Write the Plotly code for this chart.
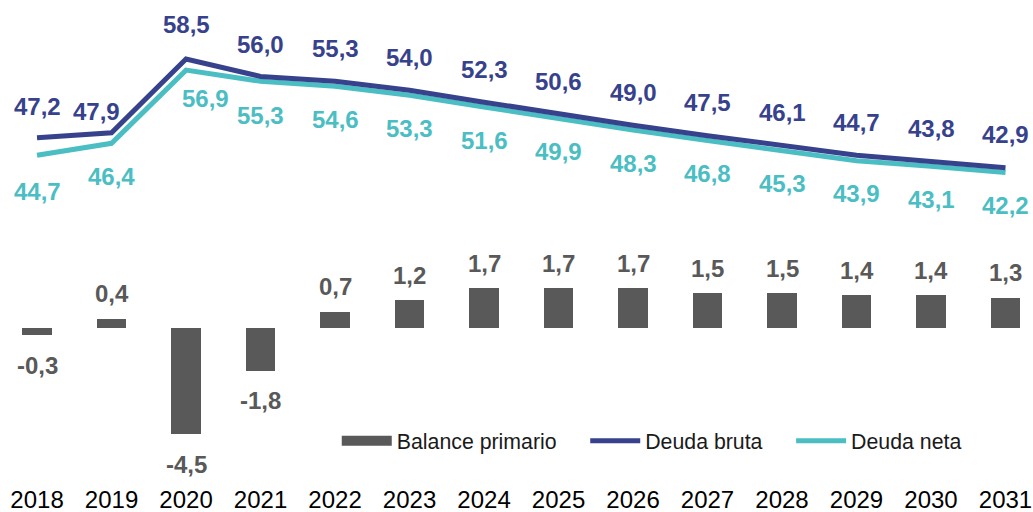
import plotly.graph_objects as go

years = ["2018", "2019", "2020", "2021", "2022", "2023", "2024",
         "2025", "2026", "2027", "2028", "2029", "2030", "2031"]
balance_primario = [-0.3, 0.4, -4.5, -1.8, 0.7, 1.2, 1.7, 1.7, 1.7, 1.5, 1.5, 1.4, 1.4, 1.3]
deuda_bruta = [47.2, 47.9, 58.5, 56.0, 55.3, 54.0, 52.3, 50.6, 49.0, 47.5, 46.1, 44.7, 43.8, 42.9]
deuda_neta = [44.7, 46.4, 56.9, 55.3, 54.6, 53.3, 51.6, 49.9, 48.3, 46.8, 45.3, 43.9, 43.1, 42.2]

# label style offsets (pixels)
bruta_dx = [0, -15, 0, 0, 0, 0, 0, 0, 0, 0, 0, 0, 0, 0]
bruta_dy = [31, 21, 34, 32, 33, 33, 33, 33, 33, 33, 33, 33, 33, 33]
neta_dx = [0, 0, 19, 0, 0, 0, 0, 0, 0, 0, 0, 0, 0, 0]
neta_dy = [-36, -33, -28, -34, -33, -33, -33, -33, -33, -33, -33, -33, -33, -33]

C_BAR = "#595959"
C_BRUTA = "#37428C"
C_NETA = "#4BBEC3"
FONT = "Arial, Liberation Sans, sans-serif"
PAD = "\u00a0" * 4
LBL = 24

def fmt(v):
    return f"{v:.1f}".replace(".", ",")

fig = go.Figure()

fig.add_trace(go.Bar(
    x=years, y=balance_primario, name="Balance primario",
    marker=dict(color=C_BAR, line=dict(width=0)), width=0.40,
    showlegend=False, yaxis="y", hoverinfo="skip",
))
fig.add_trace(go.Scatter(
    x=[None], y=[None], mode="lines", name="Balance primario" + PAD,
    line=dict(color=C_BAR, width=11), legendrank=1,
))
fig.add_trace(go.Scatter(
    x=years, y=deuda_neta, mode="lines", name="Deuda neta",
    line=dict(color=C_NETA, width=5), yaxis="y2", legendrank=3,
    hoverinfo="skip",
))
fig.add_trace(go.Scatter(
    x=years, y=deuda_bruta, mode="lines", name="Deuda bruta" + PAD,
    line=dict(color=C_BRUTA, width=5), yaxis="y2", legendrank=2,
    hoverinfo="skip",
))

for i, v in enumerate(balance_primario):
    fig.add_annotation(
        x=i, y=v, xref="x", yref="y", text="<b>" + fmt(v) + "</b>", showarrow=False,
        yshift=25 if v >= 0 else -30,
        font=dict(family=FONT, size=LBL, color=C_BAR),
    )
for i, v in enumerate(deuda_bruta):
    fig.add_annotation(
        x=i, y=v, xref="x", yref="y2", text="<b>" + fmt(v) + "</b>", showarrow=False,
        xshift=bruta_dx[i], yshift=bruta_dy[i],
        font=dict(family=FONT, size=LBL, color=C_BRUTA),
    )
for i, v in enumerate(deuda_neta):
    fig.add_annotation(
        x=i, y=v, xref="x", yref="y2", text="<b>" + fmt(v) + "</b>", showarrow=False,
        xshift=neta_dx[i], yshift=neta_dy[i],
        font=dict(family=FONT, size=LBL, color=C_NETA),
    )

hidden_axis = dict(showgrid=False, zeroline=False, showline=False,
                   showticklabels=False, ticks="", fixedrange=True)

fig.update_layout(
    width=1033, height=512,
    margin=dict(l=0, r=0, t=0, b=29),
    paper_bgcolor="white", plot_bgcolor="white",
    font=dict(family=FONT, color="#000000"),
    bargap=0,
    hovermode=False,
    xaxis=dict(
        type="category", range=[-0.497, 13.369],
        showgrid=False, zeroline=False, showline=False, ticks="",
        tickfont=dict(family=FONT, size=24, color="#000000"),
        automargin=False,
        fixedrange=True,
    ),
    yaxis=dict(range=[-6.583, 13.97], **hidden_axis),
    yaxis2=dict(range=[-2.33, 66.96], overlaying="y", side="right", **hidden_axis),
    legend=dict(
        orientation="h", x=0.326, xanchor="left", y=0.087, yanchor="middle",
        font=dict(family=FONT, size=21.3, color="#1a1a1a"),
        bgcolor="rgba(0,0,0,0)", itemwidth=50,
    ),
    showlegend=True,
)

fig.write_html("out.html", config={"displayModeBar": False},
               post_script="document.body.style.margin='0px';")
